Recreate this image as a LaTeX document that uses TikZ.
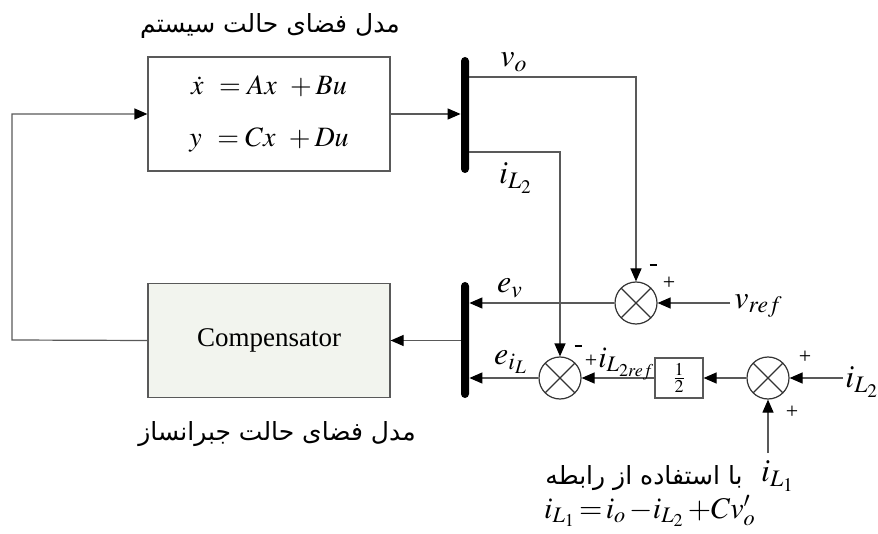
\documentclass[tikz,border=0pt]{standalone}
\usepackage{mathptmx}
\usepackage[no-math]{fontspec}
\setmainfont{Liberation Serif}
\newfontfamily\arabicfont[Script=Arabic]{DejaVu Sans}
\TeXXeTstate=1
\usepackage{tikz}
\usetikzlibrary{arrows.meta, shapes, positioning, calc}
\definecolor{compfill}{HTML}{F2F4EE}

\begin{document}
\begin{tikzpicture}[x=0.5pt, y=-0.5pt,
  block/.style={rectangle, draw=black!65, line width=0.6pt, inner sep=0pt,
                minimum width=121pt, minimum height=57pt, align=center},
  bus/.style={rectangle, fill=black, rounded corners=2pt, inner sep=0pt,
              minimum width=4pt, minimum height=58pt},
  sumnode/.style={circle, draw=black!80, line width=0.6pt, inner sep=0pt,
                  minimum size=21pt,
                  path picture={\draw[black!80, line width=0.6pt]
                    (path picture bounding box.north west) -- (path picture bounding box.south east)
                    (path picture bounding box.north east) -- (path picture bounding box.south west);}},
  gainbox/.style={rectangle, draw=black!65, line width=0.6pt, inner sep=0pt,
                  minimum width=24pt, minimum height=20pt, font=\fontsize{12}{12}\selectfont},
  arrow/.style={-{Triangle[length=6.5pt, width=5.5pt, color=black]}, draw=black!65, line width=0.6pt},
  lbl/.style={inner sep=0pt, font=\fontsize{16}{16}\selectfont},
  sign/.style={inner sep=0pt, font=\fontsize{11}{11}\selectfont},
  fa/.style={inner sep=0pt, font=\arabicfont\fontsize{12.5}{14}\selectfont},
]
\useasboundingbox (0,0) rectangle (878,534);

% blocks
\node[block, font=\fontsize{14}{24}\selectfont] (sys) at (269,114)
  {$\dot{x}\;\,=Ax\;\,+Bu$\\[2pt]$y\;\,=Cx\;\,+Du$};
\node[block, fill=compfill, font=\fontsize{13.5}{14}\selectfont] (comp) at (269,340.5) {Compensator};
\node[fa] (systitle) at (270,26) {\beginR مدل فضای حالت سیستم\endR};
\node[fa] (comptitle) at (277,434) {\beginR مدل فضای حالت جبرانساز\endR};

% buses
\node[bus] (bus1) at (465,115) {};
\node[bus] (bus2) at (465,340) {};

% summing junctions and gain
\node[sumnode] (sum1) at (636,303) {};
\node[sumnode] (sum2) at (560,378) {};
\node[sumnode] (sum3) at (768,378) {};
\node[gainbox] (gain) at (679,378) {$\frac{1}{2}$};

% free ends
\coordinate (fb)    at (12,340);
\coordinate (vo)    at (465,77);
\coordinate (il2)   at (465,152);
\coordinate (vref)  at (730,303);
\coordinate (il2in) at (843,378);
\coordinate (il1in) at (768,453);

% connectors
\draw[arrow] (sys.east) -- (sys.east -| bus1.west);
\draw[arrow] (comp.west) -- (fb) |- (sys.west);
\draw[arrow] (bus2.west |- comp.east) -- (comp.east);
\draw[arrow] (vo -| bus1.east) -| (sum1.north);
\draw[arrow] (il2 -| bus1.east) -| (sum2.north);
\draw[arrow] (vref) -- (sum1.east);
\draw[arrow] (sum1.west) -- (sum1.west -| bus2.east);
\draw[arrow] (sum2.west) -- (sum2.west -| bus2.east);
\draw[arrow] (gain.west) -- (sum2.east);
\draw[arrow] (sum3.west) -- (gain.east);
\draw[arrow] (il2in) -- (sum3.east);
\draw[arrow] (il1in) -- (sum3.south);

% labels
\node[lbl] (volbl)   at (514,62)  {$v_o$};
\node[lbl] (il2lbl)  at (516,178) {$i_{L_2}$};
\node[lbl] (evlbl)   at (510,288) {$e_v$};
\node[lbl] (eillbl)  at (511,362) {$e_{i_L}$};
\node[lbl, anchor=west] (vreflbl) at (734,306) {$v_{ref}$};
\node[lbl, anchor=west, font=\fontsize{15}{15}\selectfont] (ilreflbl) at (598,364) {$i_{L_{2ref}}$};
\node[lbl, anchor=west] (il2inlbl) at (845,382) {$i_{L_2}$};
\node[lbl] (il1lbl)  at (778,476) {$i_{L_1}$};
\node[fa] (relnote) at (644,478) {\beginR با استفاده از رابطه\endR};
\node[lbl, font=\fontsize{15}{15}\selectfont] (releq) at (650,511)
  {$i_{L_1}\!=\!i_o\,{-}i_{L_2}\,{+}Cv_o'$};

% signs
\node[sign] (s1m) at (653,265) {\rule{3.5pt}{1.3pt}};
\node[sign] (s1p) at (669,283) {+};
\node[sign] (s2m) at (578,346) {\rule{3.5pt}{1.3pt}};
\node[sign] (s2p) at (591,361) {+};
\node[sign] (s3a) at (805,357) {+};
\node[sign] (s3b) at (792,412) {+};
\end{tikzpicture}
\end{document}
